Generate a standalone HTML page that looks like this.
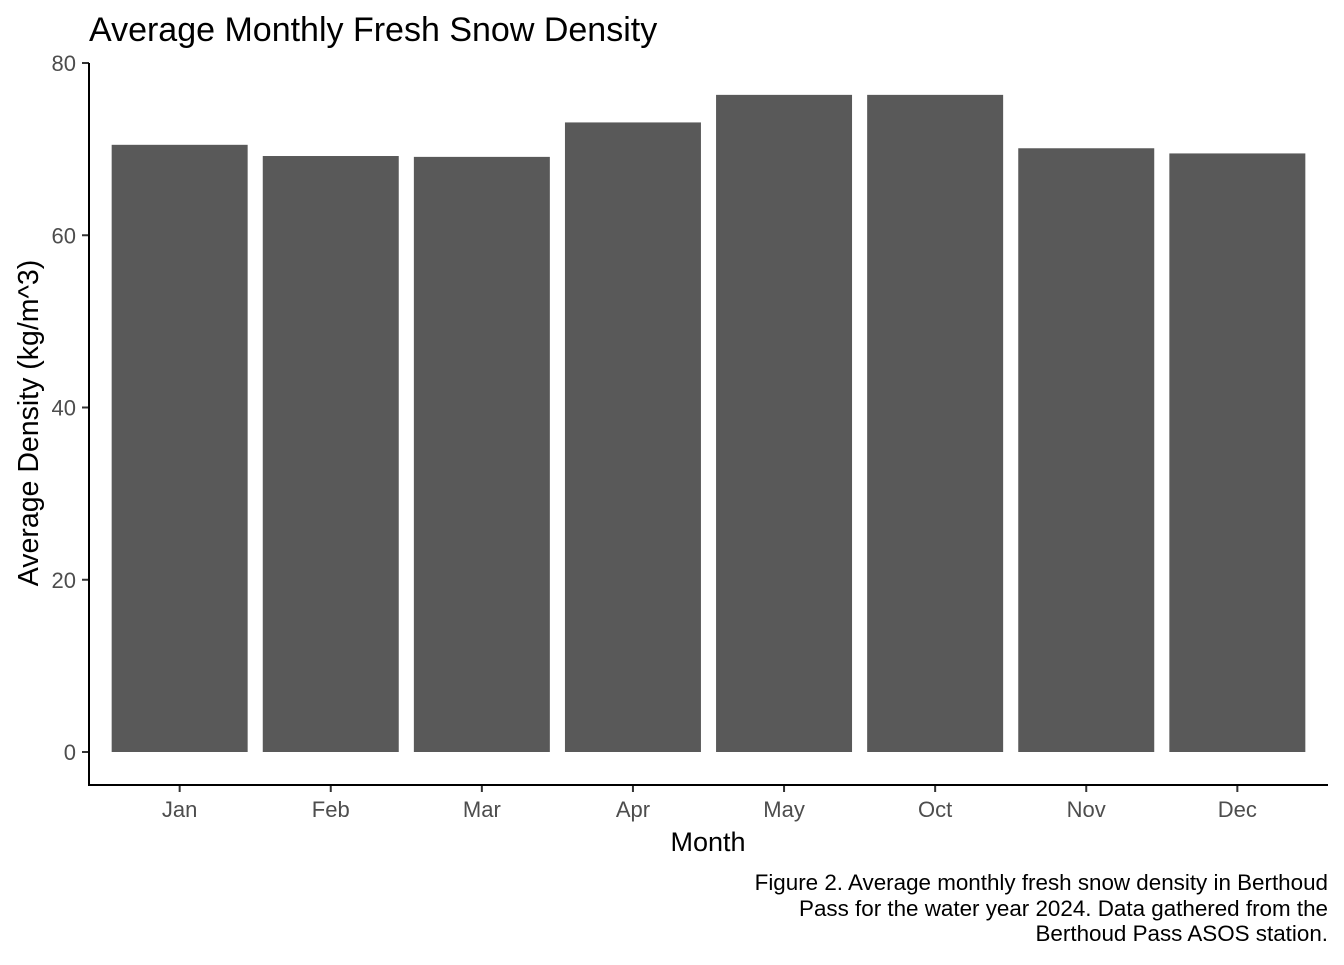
<!DOCTYPE html>
<html><head><meta charset="utf-8"><style>
body{margin:0;background:#fff;}
svg text{font-family:"Liberation Sans",Arial,sans-serif;}
</style></head><body>
<svg id="chart" width="1344" height="960" viewBox="0 0 1344 960" xmlns="http://www.w3.org/2000/svg">
<text x="89" y="41" font-size="34" fill="#000">Average Monthly Fresh Snow Density</text>
<g id="bars"></g>
<g id="yaxis"></g>
<g id="xaxis"></g>
<line x1="89" y1="63" x2="89" y2="785" stroke="#000" stroke-width="2"/>
<line x1="88" y1="785" x2="1328" y2="785" stroke="#000" stroke-width="2"/>
<text x="708" y="851" font-size="27" text-anchor="middle" fill="#000">Month</text>
<text transform="translate(38,423) rotate(-90)" font-size="28.5" text-anchor="middle" fill="#000">Average Density (kg/m^3)</text>
<g font-size="22.4" text-anchor="end" fill="#000">
<text x="1328" y="890">Figure 2. Average monthly fresh snow density in Berthoud</text>
<text x="1328" y="916">Pass for the water year 2024. Data gathered from the</text>
<text x="1328" y="941">Berthoud Pass ASOS station.</text>
</g>
</svg>
<script>
const months = ["Jan","Feb","Mar","Apr","May","Oct","Nov","Dec"];
const density = [70.5, 69.2, 69.1, 73.1, 76.3, 76.3, 70.1, 69.5];
const yTicks = [0, 20, 40, 60, 80];
const NS = "http://www.w3.org/2000/svg";
const x0 = 89, x1 = 1328, yZero = 752, yTop = 63, yMax = 80;
const step = (x1 - x0) / (months.length - 1 + 1.2);
const xCenter = i => x0 + step * 0.6 + step * i;
const barW = step * 0.9;
const yScale = v => yZero - (yZero - yTop) * v / yMax;
const bars = document.getElementById('bars');
months.forEach((m, i) => {
  const r = document.createElementNS(NS, 'rect');
  r.setAttribute('x', xCenter(i) - barW / 2);
  r.setAttribute('y', yScale(density[i]));
  r.setAttribute('width', barW);
  r.setAttribute('height', yZero - yScale(density[i]));
  r.setAttribute('fill', '#595959');
  
  
  bars.appendChild(r);
  const t = document.createElementNS(NS, 'line');
  t.setAttribute('x1', xCenter(i)); t.setAttribute('x2', xCenter(i));
  t.setAttribute('y1', 785); t.setAttribute('y2', 792);
  t.setAttribute('stroke', '#333'); t.setAttribute('stroke-width', '2');
  
  
  document.getElementById('xaxis').appendChild(t);
  const l = document.createElementNS(NS, 'text');
  l.setAttribute('x', xCenter(i)); l.setAttribute('y', 817);
  l.setAttribute('text-anchor', 'middle'); l.setAttribute('font-size', '22');
  l.setAttribute('fill', '#4d4d4d');
  l.textContent = m;
  
  
  document.getElementById('xaxis').appendChild(l);
});
yTicks.forEach(v => {
  const t = document.createElementNS(NS, 'line');
  t.setAttribute('x1', 82); t.setAttribute('x2', 89);
  t.setAttribute('y1', yScale(v)); t.setAttribute('y2', yScale(v));
  t.setAttribute('stroke', '#333'); t.setAttribute('stroke-width', '2');
  
  
  document.getElementById('yaxis').appendChild(t);
  const l = document.createElementNS(NS, 'text');
  l.setAttribute('x', 76); l.setAttribute('y', yScale(v) + 8);
  l.setAttribute('text-anchor', 'end'); l.setAttribute('font-size', '22');
  l.setAttribute('fill', '#4d4d4d');
  l.textContent = v;
  
  
  document.getElementById('yaxis').appendChild(l);
});
</script>
</body></html>
